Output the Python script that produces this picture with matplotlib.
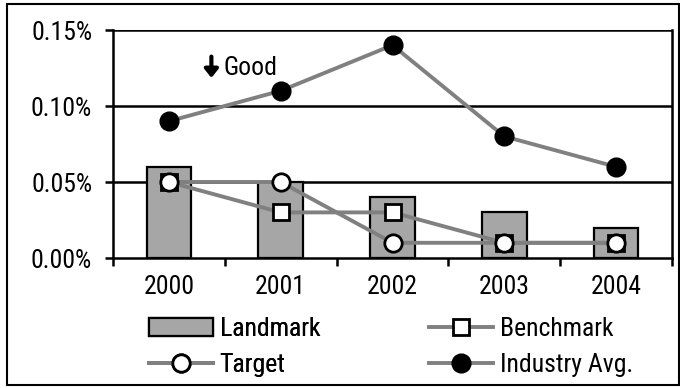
import matplotlib
matplotlib.use("Agg")
import matplotlib.pyplot as plt
from matplotlib.patches import Rectangle
from matplotlib.ticker import FuncFormatter
from matplotlib import font_manager

years = ["2000", "2001", "2002", "2003", "2004"]
landmark = [0.06, 0.05, 0.04, 0.03, 0.02]
benchmark = [0.05, 0.03, 0.03, 0.01, 0.01]
target = [0.05, 0.05, 0.01, 0.01, 0.01]
industry_avg = [0.09, 0.11, 0.14, 0.08, 0.06]
y_ticks = [0.0, 0.05, 0.10, 0.15]

names = {f.name for f in font_manager.fontManager.ttflist}
family = "Roboto Condensed" if "Roboto Condensed" in names else "Liberation Sans"
plt.rcParams["font.family"] = [family, "DejaVu Sans"]
FS = 18.5

fig = plt.figure(figsize=(6.8, 3.88), dpi=100)
ax = fig.add_axes([113 / 680, 1 - 258 / 388, (672 - 113) / 680, (258 - 30) / 388])

x = list(range(len(years)))
line_col = "#808080"
bars = ax.bar(x, landmark, width=0.4, color="#A6A6A6", edgecolor="black",
              linewidth=1.6, label="Landmark", zorder=2)
l_bench, = ax.plot(x, benchmark, color=line_col, lw=2.8, marker="s", ms=12,
                   mfc="white", mec="black", mew=2.0, label="Benchmark", zorder=3)
l_target, = ax.plot(x, target, color=line_col, lw=2.8, marker="o", ms=12.5,
                    mfc="white", mec="black", mew=2.0, label="Target", zorder=4)
l_ind, = ax.plot(x, industry_avg, color=line_col, lw=2.8, marker="o", ms=13.5,
                 mfc="black", mec="black", label="Industry Avg.", zorder=4)

ax.set_xlim(-0.5, len(years) - 0.5)
ax.set_ylim(0, 0.15)
ax.set_yticks(y_ticks)
ax.yaxis.set_major_formatter(FuncFormatter(lambda v, p: f"{v:.2f}%"))
ax.set_xticks(x)
ax.set_xticklabels(years)
ax.set_xticks([i + 0.5 for i in range(-1, len(years))], minor=True)
ax.tick_params(axis="x", which="major", length=0, labelsize=FS, pad=12)
ax.tick_params(axis="x", which="minor", length=6, width=1.8, direction="out")
ax.tick_params(axis="y", length=6, width=1.8, labelsize=FS, pad=9)
for v in y_ticks[1:]:
    ax.axhline(v, color="black", lw=1.8, zorder=1)
for s in ["left", "bottom", "right"]:
    ax.spines[s].set_linewidth(1.8)
ax.spines["top"].set_visible(False)

# "lower is better" hint: bold down arrow followed by the word
ax.annotate("", xy=(0.38, 0.1185), xytext=(0.38, 0.1325),
            arrowprops=dict(arrowstyle="-|>,head_length=0.5,head_width=0.4",
                            color="black", lw=3.0, shrinkA=0, shrinkB=0))
ax.text(0.49, 0.125, "Good", fontsize=FS, va="center", ha="left")

row_y = 1 - 347 / 388
common = dict(frameon=False, fontsize=FS, handlelength=2.5, handletextpad=0.25,
              labelspacing=0.45, borderpad=0, borderaxespad=0, loc="center left")
leg1 = fig.legend([bars, l_target], ["Landmark", "Target"],
                  bbox_to_anchor=(149 / 680, row_y), **common)
fig.legend([l_bench, l_ind], ["Benchmark", "Industry Avg."],
           bbox_to_anchor=(429 / 680, row_y), **common)
fig.add_artist(leg1)

fig.patches.append(Rectangle((7 / 680, 3 / 388), 672 / 680, 381 / 388,
                             transform=fig.transFigure, fill=False,
                             edgecolor="black", lw=1.5))

fig.savefig("out.png", dpi=100)
